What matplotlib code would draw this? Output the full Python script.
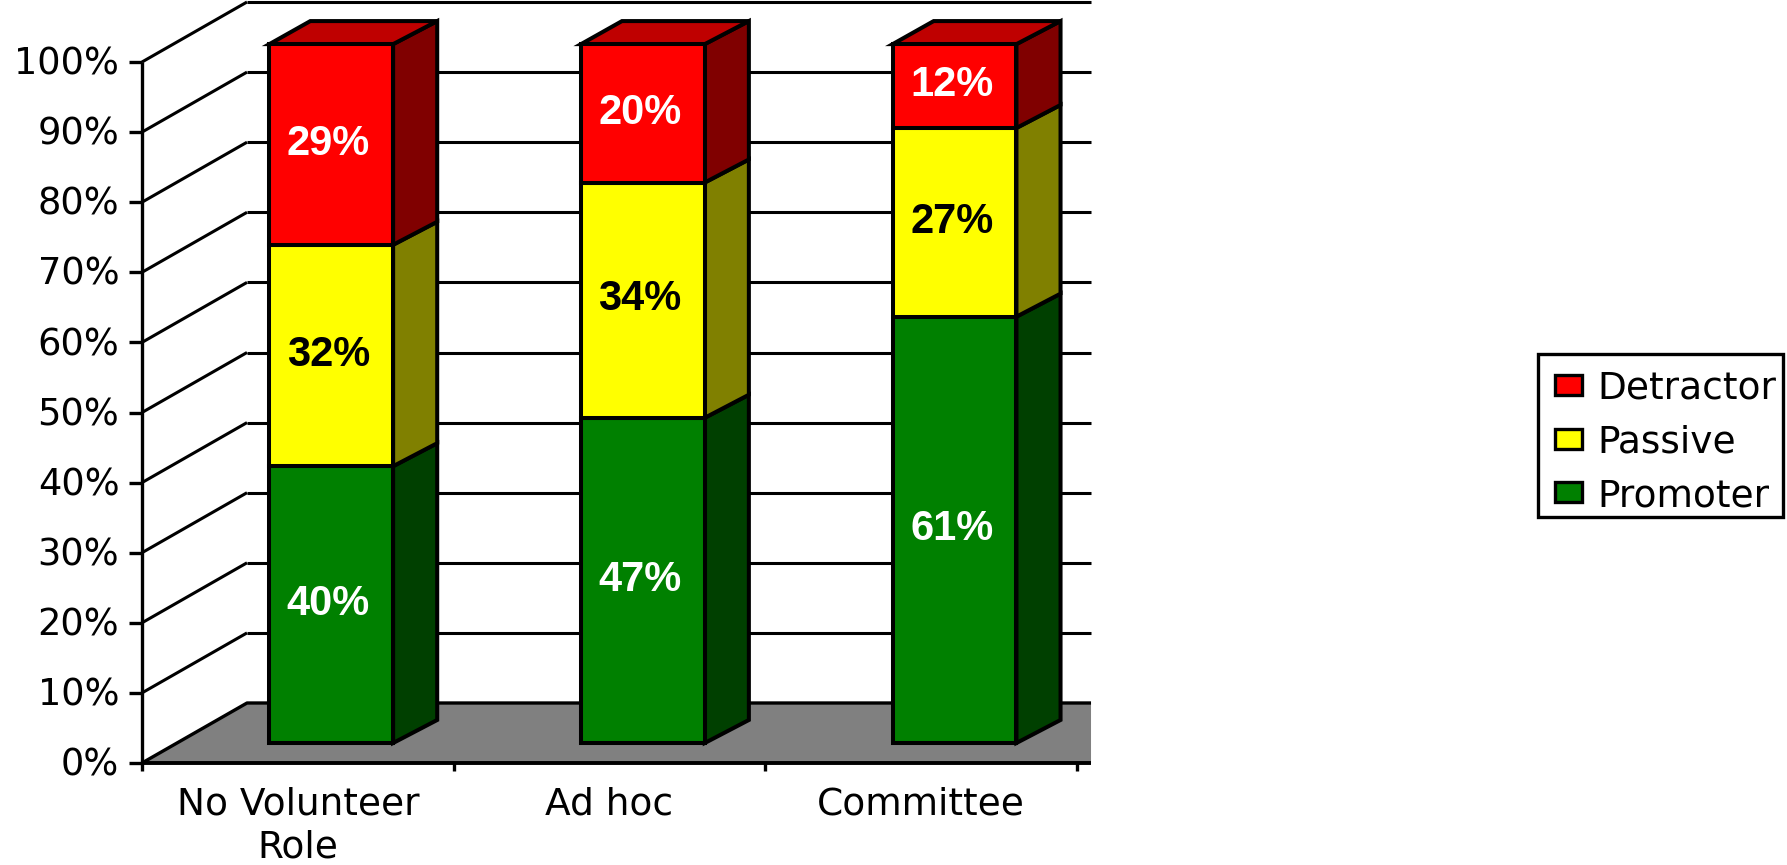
import matplotlib
matplotlib.use("Agg")
import matplotlib.pyplot as plt
from matplotlib.patches import Polygon, Rectangle

categories = ["No Volunteer\nRole", "Ad hoc", "Committee"]
series_names = ["Promoter", "Passive", "Detractor"]
promoter = [40, 47, 61]
passive = [32, 34, 27]
detractor = [29, 20, 12]
yticks = [0, 10, 20, 30, 40, 50, 60, 70, 80, 90, 100]

front_colors = ["#008000", "#ffff00", "#ff0000"]
side_colors = ["#004000", "#808000", "#800000"]
top_color = "#bf0000"
label_colors = ["white", "black", "white"]

W, H = 1787, 865
fig = plt.figure(figsize=(W / 100, H / 100), dpi=100)

# front plane of the chart: one unit per category, y in percent
left, right, bottom, top = 142, 1077, 763, 62
ax = fig.add_axes([left / W, 1 - bottom / H, (right - left) / W, (bottom - top) / H])
ax.set_xlim(0, 3)
ax.set_ylim(0, 100)
ax.axis("off")

# depth of the walls, in data units
depth_x = 105 / ((right - left) / 3)
depth_y = 60 / ((bottom - top) / 100)
xmax = 3.045
bar_width = 0.397
bar_center = 0.495
bar_front = 0.333
bar_back_x = 0.753
bar_back_y = 0.717
bar_scale = 0.997


def proj(x, y, d, d_y=None):
    # oblique projection, d=0 is the front plane and d=1 the back wall
    return x + d * depth_x, y + (d if d_y is None else d_y) * depth_y


def poly(points, fc, ec="black", lw=2.9, z=3):
    ax.add_patch(Polygon(points, closed=True, fc=fc, ec=ec, lw=lw, zorder=z,
                         joinstyle="miter", clip_on=False))


def line(xs, ys, lw=2.2, z=1):
    ax.plot(xs, ys, color="black", lw=lw, zorder=z, clip_on=False,
            solid_capstyle="butt")


# walls and floor
for t in yticks[1:]:
    bx, by = proj(0, t, 1)
    line([0, bx], [t, by])
    line([bx, xmax], [by, by])
fx, fy = proj(0, 0, 1)
poly([(0, 0), (fx, fy), (xmax, fy), (xmax, 0)], "#808080", ec="none", lw=0, z=1)
line([0, fx, xmax], [0, fy, fy], lw=2.4, z=2)
line([0, xmax], [0, 0], lw=2.8, z=2)

# axes lines, ticks and tick labels
line([0, 0], [0, 100], lw=2.4, z=2)
tick_x = 13 / ((right - left) / 3)
tick_y = 8 / ((bottom - top) / 100)
for t in yticks:
    line([-tick_x, 0], [t, t], lw=2.4, z=2)
    ax.text(-tick_x - 0.031, t - 0.3, "%d%%" % t, ha="right", va="center",
            fontsize=26.5, family="DejaVu Sans", color="black")
for i in range(4):
    line([i, i], [0, -tick_y], lw=2.4, z=2)
for i, c in enumerate(categories):
    ax.text(i + 0.5, -3.4, c, ha="center", va="top", fontsize=27,
            family="DejaVu Sans", color="black", linespacing=1.25)

# stacked bars, each one scaled to 100%
for i in range(3):
    vals = [promoter[i], passive[i], detractor[i]]
    total = sum(vals)
    x0 = i + bar_center - bar_width / 2
    x1 = i + bar_center + bar_width / 2
    base = 0
    for k, v in enumerate(vals):
        h = 100.0 * v / total * bar_scale
        a = proj(x0, base, bar_front)
        b = proj(x1, base, bar_front)
        c = proj(x1, base + h, bar_front)
        d = proj(x0, base + h, bar_front)
        e = proj(x1, base, bar_back_x, bar_back_y)
        f = proj(x1, base + h, bar_back_x, bar_back_y)
        poly([b, e, f, c], side_colors[k], z=4)
        poly([a, b, c, d], front_colors[k], z=5)
        if k == 2:
            g = proj(x0, base + h, bar_back_x - 0.03, bar_back_y)
            poly([d, c, f, g], top_color, z=4)
        mx = (a[0] + b[0]) / 2 - 0.009
        ax.text(mx, (a[1] + d[1]) / 2 + 0.1, "%d%%" % v, ha="center", va="center",
                fontsize=30, family="Liberation Sans", fontweight="bold",
                color=label_colors[k], zorder=6)
        base += h


def fig_box(x0, y0, x1, y1, fc, lw):
    # rectangle given in pixels from the top left of the figure
    fig.add_artist(Rectangle((x0 / W, 1 - y1 / H), (x1 - x0) / W, (y1 - y0) / H,
                             transform=fig.transFigure, fc=fc, ec="black", lw=lw,
                             joinstyle="miter"))


# legend box, top series first
fig_box(1538, 354, 1783, 517, "white", 2.4)
for row, k in enumerate((2, 1, 0)):
    yc = 384.5 + 54 * row
    fig_box(1555, yc - 10, 1582, yc + 10, front_colors[k], 2.4)
    fig.text(1597 / W, 1 - yc / H, series_names[k], ha="left", va="center_baseline",
             fontsize=27, family="DejaVu Sans", color="black")

fig.savefig("out.png", dpi=100, facecolor="white")
